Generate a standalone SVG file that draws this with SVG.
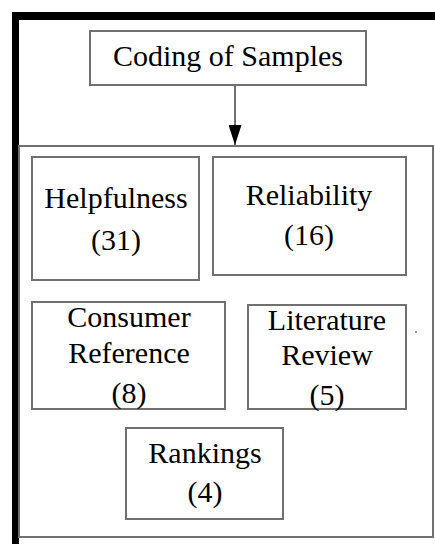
<svg xmlns="http://www.w3.org/2000/svg" width="435" height="544" viewBox="0 0 435 544">
<style>
.box{fill:#fff;stroke:#707070;stroke-width:2}
text{font-family:'Liberation Serif','Times New Roman',serif;font-size:30px;fill:#000;text-anchor:middle}
</style>
<defs>
<marker id="ah" markerWidth="20" markerHeight="13" refX="20" refY="6.5" orient="auto" markerUnits="userSpaceOnUse" viewBox="0 0 20 13">
<path d="M0,0 L20,6.5 L0,13 Z" fill="#000"/>
</marker>
</defs>
<rect x="0" y="0" width="435" height="544" fill="#fff"/>
<g id="frame">
<rect x="12" y="12" width="423" height="8" fill="#000"/>
<rect x="12" y="12" width="7" height="532" fill="#000"/>
</g>
<g id="container"><rect class="box" x="19" y="146" width="414" height="391"/></g>
<g id="coding"><rect class="box" x="90" y="31" width="276" height="54"/><text x="228" y="66">Coding of Samples</text></g>
<g id="connectors"><line x1="235" y1="85" x2="235" y2="145" stroke="#707070" stroke-width="2" marker-end="url(#ah)"/></g>
<g id="helpfulness"><rect class="box" x="32" y="157" width="167" height="123"/><text x="116" y="208">Helpfulness</text><text x="116" y="250">(31)</text></g>
<g id="reliability"><rect class="box" x="213" y="157" width="193" height="118"/><text x="309" y="205">Reliability</text><text x="309" y="245">(16)</text></g>
<g id="consumer"><rect class="box" x="32" y="302" width="193" height="107"/><text x="129" y="327">Consumer</text><text x="129" y="363">Reference</text><text x="129" y="403">(8)</text></g>
<g id="literature"><rect class="box" x="248" y="305" width="158" height="104"/><text x="327" y="330">Literature</text><text x="327" y="365">Review</text><text x="327" y="405">(5)</text></g>
<g id="rankings"><rect class="box" x="126" y="428" width="157" height="91"/><text x="205" y="463">Rankings</text><text x="205" y="502">(4)</text></g>
<rect x="415" y="331" width="2" height="2" fill="#999"/>
</svg>
